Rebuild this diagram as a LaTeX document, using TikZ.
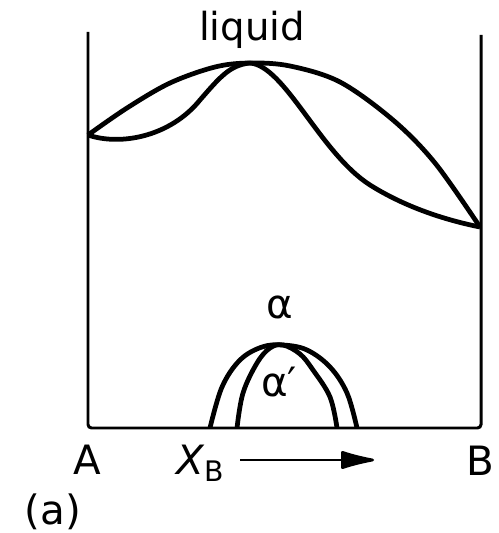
\documentclass[tikz,border=0pt]{standalone}
\usepackage{fontspec}
\setmainfont{DejaVu Sans}
\usetikzlibrary{arrows.meta}

\tikzset{
  frame/.style={line width=1.7pt, rounded corners=2pt},
  phaseline/.style={line width=2.7pt, line join=round},
  lab/.style={font=\fontsize{23}{27}\selectfont, inner sep=0pt}
}

\begin{document}
\begin{tikzpicture}[x=0.02cm, y=-0.02cm]
  \useasboundingbox (0,0) rectangle (498,533);
  \coordinate (topA) at (88,32);
  \coordinate (botA) at (88,428);
  \coordinate (botB) at (481,428);
  \coordinate (topB) at (481,35);
  \draw[frame] (topA) -- (botA) -- (botB) -- (topB);

  \coordinate (meltA) at (88,135);
  \coordinate (meltB) at (480,227);
  \coordinate (cong) at (250,63);
  \coordinate (bendL) at (200,100);
  \coordinate (bendR) at (370,185);
  \draw[phaseline] plot[smooth, tension=0.55] coordinates {(meltA) (127,108) (170,83) (215,67) (cong) (290,66) (340,82) (393,120) (435,163) (meltB)};
  \draw[phaseline] (meltA) .. controls (120,146) and (170,137) .. (bendL)
                           .. controls (220,77) and (230,65) .. (cong);
  \draw[phaseline] (cong) .. controls (285,66) and (320,153) .. (bendR)
                          .. controls (405,207) and (445,220) .. (meltB);

  \coordinate (dometop) at (283,345);
  \draw[phaseline] plot[smooth, tension=0.6] coordinates {(210,428) (222,387) (240,360) (262,347) (dometop) (307,350) (330,367) (347,393) (357,428)};
  \draw[phaseline] plot[smooth, tension=0.6] coordinates {(237,428) (243,393) (257,363) (270,348) (dometop) (300,354) (313,370) (330,397) (337,428)};

  \node[lab, font=\fontsize{22}{26}\selectfont] (liquid) at (252,30) {liquid};
  \node[lab] (alpha) at (280,307) {α};
  \node[lab] (alphap) at (279,382) {α′};
  \node[lab] (compA) at (87,460) {A};
  \node[lab] (compB) at (480,461) {B};
  \node[lab, anchor=west] (xb) at (176,463) {\itshape X\upshape\textsubscript{B}};
  \node[lab] (panel) at (53,512) {(a)};

  \coordinate (arrstart) at (240,460);
  \coordinate (arrend) at (374,460);
  \draw[line width=1.6pt, -{Latex[length=23pt, width=11pt, round]}] (arrstart) -- (arrend);
\end{tikzpicture}
\end{document}
